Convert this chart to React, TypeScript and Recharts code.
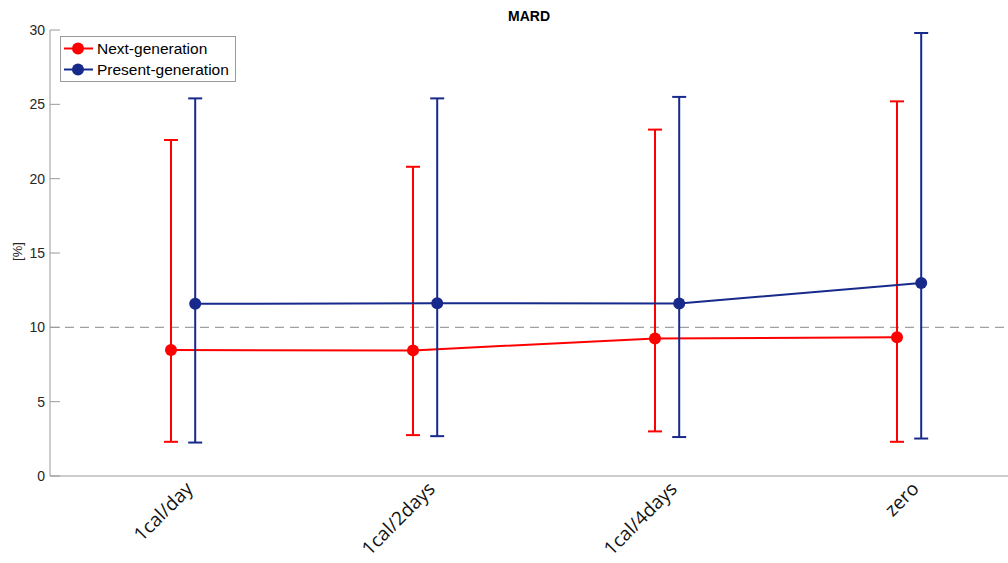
import React from "react"
import { ComposedChart, Line, XAxis, YAxis, ErrorBar, ReferenceLine } from "recharts"

const categories = ["1cal/day", "1cal/2days", "1cal/4days", "zero"]
const yTicks = [0, 5, 10, 15, 20, 25, 30]

const nextMean = [8.47, 8.45, 9.25, 9.33]
const nextLow = [2.3, 2.75, 3.0, 2.3]
const nextHigh = [22.6, 20.8, 23.3, 25.2]

const presentMean = [11.58, 11.62, 11.6, 12.98]
const presentLow = [2.25, 2.68, 2.62, 2.52]
const presentHigh = [25.4, 25.4, 25.5, 29.8]

const RED = "#ff0000"
const BLUE = "#172a8c"
const AXIS = "#9a9a9a"
const TEXT = "#262626"
const DODGE = 0.05

const build = (mean: number[], low: number[], high: number[], shift: number) =>
  categories.map((c, i) => ({
    x: i + 1 + shift,
    name: c,
    mean: mean[i],
    err: [mean[i] - low[i], high[i] - mean[i]],
  }))

const nextData = build(nextMean, nextLow, nextHigh, -DODGE)
const presentData = build(presentMean, presentLow, presentHigh, DODGE)

const YTick = (props: any) => {
  const { x, y, payload } = props
  return (
    <g>
      <line x1={x + 5} y1={y} x2={x + 15} y2={y} stroke={AXIS} strokeWidth={1} />
      <text x={x} y={y} dy={5} textAnchor="end" fill={TEXT} fontSize={14} fontFamily="Liberation Sans, Arial">
        {payload.value}
      </text>
    </g>
  )
}

const XTick = (props: any) => {
  const { x, y, payload } = props
  const label = categories[Math.round(payload.value) - 1] ?? ""
  const tx = x + 11
  const ty = y + 12
  return (
    <text
      x={tx}
      y={ty}
      textAnchor="end"
      transform={`rotate(-45, ${tx}, ${ty})`}
      fill="#111"
      fontSize={19}
      fontFamily="Open Sans, Liberation Sans"
    >
      {label}
    </text>
  )
}

const LegendBox = () => (
  <div
    style={{
      position: "absolute",
      left: 60,
      top: 36,
      border: `1px solid ${AXIS}`,
      background: "#fff",
      width: 174,
      padding: "1px 0",
      fontFamily: "Liberation Sans, Arial",
      fontSize: 15.5,
      color: "#000",
    }}
  >
    {[
      { label: "Next-generation", color: RED },
      { label: "Present-generation", color: BLUE },
    ].map((e) => (
      <div key={e.label} style={{ display: "flex", alignItems: "center", height: 21 }}>
        <svg width={36} height={21} style={{ flex: "none" }}>
          <line x1={3} y1={10.5} x2={32} y2={10.5} stroke={e.color} strokeWidth={2} />
          <circle cx={17} cy={10.5} r={6} fill={e.color} />
        </svg>
        <span style={{ whiteSpace: "nowrap" }}>{e.label}</span>
      </div>
    ))}
  </div>
)

export default function App() {
  return (
    <div style={{ position: "absolute", left: 0, top: 0, width: 1008, height: 563, overflow: "hidden", background: "#fff" }}>
      <div
        style={{
          position: "absolute",
          top: 8,
          left: 0,
          width: 1058,
          textAlign: "center",
          fontFamily: "Liberation Sans, Arial",
          fontWeight: "bold",
          fontSize: 14,
          color: "#000",
        }}
      >
        MARD
      </div>
      <div
        style={{
          position: "absolute",
          left: 8,
          top: 244,
          transform: "rotate(-90deg)",
          fontFamily: "Liberation Sans, Arial",
          fontSize: 13,
          color: TEXT,
        }}
      >
        [%]
      </div>
      <ComposedChart width={1026} height={563} margin={{ top: 30, right: 8, left: 0, bottom: 0 }}>
        <XAxis
          xAxisId="top"
          orientation="top"
          type="number"
          dataKey="x"
          domain={[0.45, 4.45]}
          tick={false}
          tickLine={false}
          axisLine={{ stroke: AXIS }}
          height={0}
        />
        <XAxis
          type="number"
          dataKey="x"
          domain={[0.45, 4.45]}
          ticks={[1, 2, 3, 4]}
          allowDataOverflow
          tickLine={false}
          tickSize={0}
          tick={<XTick />}
          axisLine={{ stroke: AXIS }}
          height={87}
        />
        <YAxis
          type="number"
          domain={[0, 30]}
          ticks={yTicks}
          width={50}
          tickSize={0}
          tickMargin={5}
          tickLine={false}
          tick={<YTick />}
          axisLine={{ stroke: AXIS }}
        />
        <ReferenceLine y={10} stroke="#a0a0a0" strokeDasharray="9 6" strokeWidth={1.2} />
        <Line
          data={nextData}
          dataKey="mean"
          name="Next-generation"
          stroke={RED}
          strokeWidth={2}
          dot={{ r: 6, fill: RED, stroke: RED, strokeWidth: 0 }}
          activeDot={false}
          isAnimationActive={false}
        >
          <ErrorBar dataKey="err" direction="y" width={7} stroke={RED} strokeWidth={2} isAnimationActive={false} />
        </Line>
        <Line
          data={presentData}
          dataKey="mean"
          name="Present-generation"
          stroke={BLUE}
          strokeWidth={2}
          dot={{ r: 6, fill: BLUE, stroke: BLUE, strokeWidth: 0 }}
          activeDot={false}
          isAnimationActive={false}
        >
          <ErrorBar dataKey="err" direction="y" width={7} stroke={BLUE} strokeWidth={2} isAnimationActive={false} />
        </Line>
      </ComposedChart>
      <LegendBox />
    </div>
  )
}
